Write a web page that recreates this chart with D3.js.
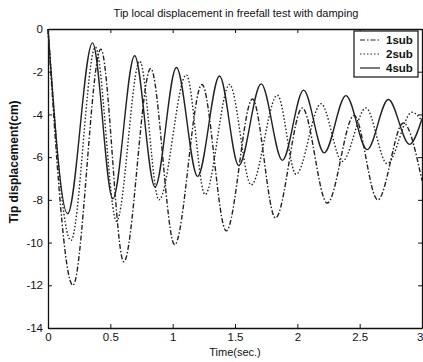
<!DOCTYPE html>
<html>
<head>
<meta charset="utf-8">
<script src="https://cdn.jsdelivr.net/npm/d3@7"></script>
<style>
  body { margin: 0; background: #fff; }
  svg { display: block; font-family: "Liberation Sans", Arial, sans-serif; }
</style>
</head>
<body>
<svg id="chart" width="423" height="362"></svg>
<script>
// values (time in s, displacement in cm), peaks and valleys
const sub1 = [[0,0],[0.2,-12.0],[0.424,-0.95],[0.608,-10.9],[0.824,-1.85],[1.016,-10.1],[1.235,-2.6],
  [1.43,-9.45],[1.64,-3.28],[1.825,-8.85],[2.04,-3.7],[2.24,-8.15],[2.455,-4.05],[2.645,-8.0],[2.85,-4.4],[3.0,-7.1]];
const sub2 = [[0,0],[0.184,-9.9],[0.38,-0.85],[0.55,-9.0],[0.736,-1.5],[0.89,-8.0],[1.11,-2.15],[1.26,-7.75],
  [1.456,-2.6],[1.63,-7.3],[1.84,-3.1],[1.99,-6.8],[2.19,-3.5],[2.36,-6.2],[2.55,-3.7],[2.72,-6.3],[2.92,-3.9],[3.0,-4.3]];
const sub4 = [[0,0],[0.157,-8.65],[0.357,-0.65],[0.52,-7.95],[0.695,-1.25],[0.858,-7.4],[1.03,-1.8],[1.2,-6.9],
  [1.376,-2.2],[1.53,-6.4],[1.71,-2.57],[1.88,-6.15],[2.05,-2.86],[2.215,-5.8],[2.39,-3.12],[2.56,-5.65],[2.73,-3.3],[2.9,-5.4],[3.0,-4.2]];

const seriesNames = ['1sub', '2sub', '4sub'];
const seriesData = [sub1, sub2, sub4];
const dashes = ['5,2,1.5,2', '1.5,2', null];

const xTicks = [0, 0.5, 1, 1.5, 2, 2.5, 3];
const yTicks = [0, -2, -4, -6, -8, -10, -12, -14];

const margin = {top: 29, right: 1, bottom: 34, left: 48};
const svg = d3.select('#chart');
const width = +svg.attr('width') - margin.left - margin.right;
const height = +svg.attr('height') - margin.top - margin.bottom;

const g = svg.append('g')
  .attr('transform', `translate(${margin.left},${margin.top})`);

const x = d3.scaleLinear().domain([0, 3]).range([0, width]);
const y = d3.scaleLinear().domain([-14, 0]).range([height, 0]);

const fmt = d => String(d);

// box with inward ticks, matlab style
const xAxis = g.append('g')
  .attr('transform', `translate(0,${height})`)
  .call(d3.axisBottom(x).tickValues(xTicks).tickFormat(fmt).tickSizeInner(-4).tickSizeOuter(0).tickPadding(5));
g.append('g')
  .call(d3.axisTop(x).tickValues(xTicks).tickFormat('').tickSizeInner(-4).tickSizeOuter(0));
g.append('g')
  .call(d3.axisLeft(y).tickValues(yTicks).tickFormat(fmt).tickSizeInner(-4).tickSizeOuter(0).tickPadding(5));
g.append('g')
  .attr('transform', `translate(${width},0)`)
  .call(d3.axisRight(y).tickValues(yTicks).tickFormat('').tickSizeInner(-4).tickSizeOuter(0));

g.selectAll('.domain').attr('stroke', '#111').attr('stroke-width', 1.3);
g.selectAll('.tick line').attr('stroke', '#111');
g.selectAll('.tick text').attr('font-size', 11.5).attr('fill', '#111')
  .attr('font-family', '"Liberation Sans", Arial, sans-serif');
// last label sits on the window edge
xAxis.selectAll('.tick text').filter(d => d === 3).attr('text-anchor', 'end').attr('dx', 1);

const line = d3.line()
  .x(d => x(d[0]))
  .y(d => y(d[1]))
  .curve(d3.curveMonotoneX);

g.selectAll('.series')
  .data(seriesData)
  .join('path')
  .attr('class', 'series')
  .attr('d', line)
  .attr('fill', 'none')
  .attr('stroke', '#222')
  .attr('stroke-width', 1.4)
  .attr('stroke-dasharray', (d, i) => dashes[i]);

// title and axis labels
svg.append('text')
  .attr('x', 236).attr('y', 17)
  .attr('text-anchor', 'middle')
  .attr('font-size', 11)
  .attr('fill', '#111')
  .text('Tip local displacement in freefall test with damping');

svg.append('text')
  .attr('x', 235).attr('y', 356)
  .attr('text-anchor', 'middle')
  .attr('font-size', 11)
  .attr('fill', '#111')
  .text('Time(sec.)');

svg.append('text')
  .attr('transform', 'translate(18,162) rotate(-90)')
  .attr('text-anchor', 'middle')
  .attr('font-size', 12)
  .attr('font-weight', 'bold')
  .attr('fill', '#111')
  .text('Tip displacement(cm)');

// legend
const legend = svg.append('g').attr('transform', 'translate(354,31)');
legend.append('rect')
  .attr('width', 64).attr('height', 46)
  .attr('fill', '#fff').attr('stroke', '#111').attr('stroke-width', 1.2);
const items = legend.selectAll('.item')
  .data(seriesNames)
  .join('g')
  .attr('class', 'item')
  .attr('transform', (d, i) => `translate(0,${9 + i * 14})`);
items.append('line')
  .attr('x1', 6).attr('x2', 26)
  .attr('stroke', '#222').attr('stroke-width', 1.2)
  .attr('stroke-dasharray', (d, i) => dashes[i]);
items.append('text')
  .attr('x', 32).attr('dy', '0.35em')
  .attr('font-size', 11.5)
  .attr('font-weight', 'bold')
  .attr('fill', '#111')
  .text(d => d);
</script>
</body>
</html>
